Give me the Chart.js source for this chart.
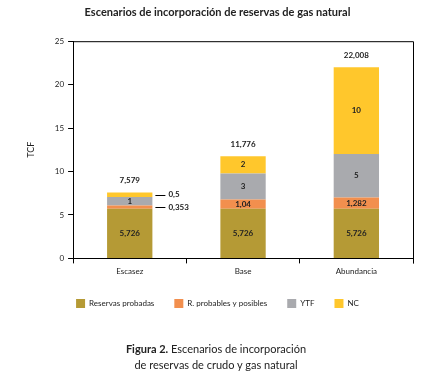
<!DOCTYPE html>
<html>
<head>
<meta charset="utf-8">
<script src="https://cdn.jsdelivr.net/npm/chart.js@4.4.1/dist/chart.umd.min.js"></script>
<style>
  body { margin: 0; background: #fff; }
  #wrap { position: relative; width: 432px; height: 379px; }
  #caption { position: absolute; left: 0; top: 341px; width: 432px; text-align: center;
    font-family: Lato, sans-serif; font-size: 11px; line-height: 16px; color: #222; }
</style>
</head>
<body>
<div id="wrap">
  <canvas id="chart" width="432" height="379"></canvas>
  <div id="caption"><b>Figura 2.</b> Escenarios de incorporación<br>de reservas de crudo y gas natural</div>
</div>
<script>
const categories = ["Escasez", "Base", "Abundancia"];
const probadas = [5.726, 5.726, 5.726];
const probablesPosibles = [0.353, 1.04, 1.282];
const ytf = [1, 3, 5];
const nc = [0.5, 2, 10];
const totals = [7.579, 11.776, 22.008];
const yTicks = [0, 5, 10, 15, 20, 25];

const FONT = "Lato, sans-serif";
const fmt = v => String(v).replace(".", ",");

// labels inside segments, tiny ones pulled out with a leader line, totals on top
const labelsPlugin = {
  id: "segLabels",
  afterDatasetsDraw(chart) {
    const ctx = chart.ctx;
    const y = chart.scales.y;
    ctx.save();
    ctx.font = "bold 8px " + FONT;
    ctx.fillStyle = "#222";
    ctx.textBaseline = "middle";
    chart.data.datasets.forEach((ds, di) => {
      chart.getDatasetMeta(di).data.forEach((bar, i) => {
        const v = ds.data[i];
        const mid = (bar.y + bar.base) / 2;
        if (v < 0.6) {
          const x0 = bar.x + bar.width / 2 + 3;
          ctx.strokeStyle = "#000";
          ctx.lineWidth = 1;
          ctx.beginPath();
          ctx.moveTo(x0, Math.round(mid) + 0.5);
          ctx.lineTo(x0 + 10, Math.round(mid) + 0.5);
          ctx.stroke();
          ctx.textAlign = "left";
          ctx.fillText(fmt(v), x0 + 13, mid);
        } else {
          ctx.textAlign = "center";
          ctx.fillText(fmt(v), bar.x, mid);
        }
      });
    });
    const meta = chart.getDatasetMeta(0);
    ctx.textAlign = "center";
    totals.forEach((t, i) => {
      ctx.fillText(fmt(t), meta.data[i].x, y.getPixelForValue(t) - 12);
    });
    // frame on top and right
    const a = chart.chartArea;
    ctx.strokeStyle = "#000";
    ctx.lineWidth = 1;
    ctx.beginPath();
    ctx.moveTo(a.left, a.top + 0.5);
    ctx.lineTo(a.right + 0.5, a.top + 0.5);
    ctx.lineTo(a.right + 0.5, a.bottom + 5);
    ctx.stroke();
    ctx.restore();
  }
};

const mk = (label, data, color) => ({
  label, data, backgroundColor: color, borderWidth: 0,
  barPercentage: 0.4, categoryPercentage: 1
});

new Chart(document.getElementById("chart"), {
  type: "bar",
  data: {
    labels: categories,
    datasets: [
      mk("Reservas probadas", probadas, "#b59a35"),
      mk("R. probables y posibles", probablesPosibles, "#f28f4e"),
      mk("YTF", ytf, "#a9aaae"),
      mk("NC", nc, "#ffc72c")
    ]
  },
  options: {
    responsive: false,
    animation: false,
    layout: { padding: { left: 22, right: 19, top: 3, bottom: 61 } },
    plugins: {
      title: {
        display: true,
        text: "Escenarios de incorporación de reservas de gas natural",
        font: { family: FONT, size: 11, weight: "bold" },
        color: "#222",
        padding: { top: 3, bottom: 22 }
      },
      legend: {
        position: "bottom",
        labels: {
          boxWidth: 9, boxHeight: 9, padding: 20,
          font: { family: FONT, size: 8 }, color: "#222"
        }
      },
      tooltip: { enabled: false }
    },
    scales: {
      x: {
        stacked: true,
        grid: { offset: true, drawOnChartArea: false, tickLength: 5, color: "#000" },
        border: { color: "#000" },
        ticks: { font: { family: FONT, size: 8 }, color: "#222" }
      },
      y: {
        stacked: true,
        min: 0, max: 25,
        afterBuildTicks: s => { s.ticks = yTicks.map(v => ({ value: v })); },
        grid: { drawOnChartArea: false, tickLength: 5, color: "#000" },
        border: { color: "#000" },
        ticks: { font: { family: FONT, size: 8 }, color: "#222", padding: 4 },
        title: { display: true, text: "TCF", font: { family: FONT, size: 9 }, color: "#222", padding: { bottom: 14 } }
      }
    }
  },
  plugins: [labelsPlugin]
});
</script>
</body>
</html>
